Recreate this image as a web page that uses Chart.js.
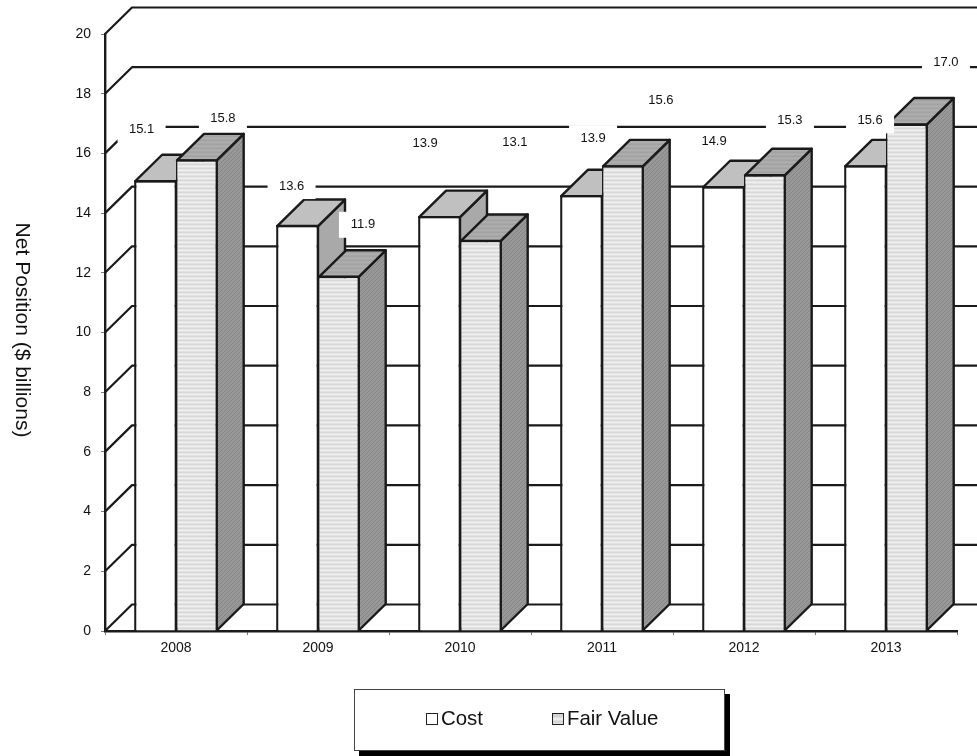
<!DOCTYPE html>
<html>
<head>
<meta charset="utf-8">
<title>Net Position</title>
<script src="https://cdn.jsdelivr.net/npm/chart.js@4"></script>
<style>
    body{ margin:0; background:#fff; font-family:"Liberation Sans",Arial,sans-serif; }
    #wrap{ position:relative; width:977px; height:756px; overflow:hidden; }
    #legend{
        position:absolute; left:354px; top:689px; width:371px; height:62px; box-sizing:border-box;
        background:#fff; border:1px solid #444; box-shadow:5px 5px 0 #000;
    }
    #legend .item{ position:absolute; top:17px; font-size:20.4px; line-height:23px; color:#111; white-space:nowrap; }
    #legend .swatch{ position:absolute; left:-1px; top:6px; width:12px; height:12px; box-sizing:border-box; border:1.5px solid #222; }
</style>
</head>
<body>
<div id="wrap">
    <canvas id="chart" width="977" height="756"></canvas>
    <div id="legend"></div>
</div>
<script>
'use strict';

const years = ['2008','2009','2010','2011','2012','2013'];
const costValues = [15.1,13.6,13.9,14.6,14.9,15.6];
const fairValues = [15.8,11.9,13.1,15.6,15.3,17.0];
// printed labels, the 2011 cost label does not agree with its bar in the original
const costLabels = ['15.1','13.6','13.9','13.9','14.9','15.6'];
const fairLabels = ['15.8','11.9','13.1','15.6','15.3','17.0'];
const yTicks = [0,2,4,6,8,10,12,14,16,18,20];
const axisTitle = 'Net Position ($ billions)';

// where each label sits, relative to the head of its bar
const costShift = [[-13.5,-51],[-5.5,-39],[-14,-73],[12,-57],[-9,-44.5],[5,-45]];
const fairShift = [[26,-41],[24,-51],[34,-98],[38,-65],[25,-54],[39,-61]];

const depthX = 27;
const depthY = 26.5;
const lineColor = '#1a1a1a';

function makePattern(size, paint){
    const cv = document.createElement('canvas');
    cv.width = size;
    cv.height = size;
    paint(cv.getContext('2d'), size);
    return document.getElementById('chart').getContext('2d').createPattern(cv,'repeat');
}

function stripes(colors){
    return makePattern(colors.length, function(p, size){
        colors.forEach(function(col, i){
            p.fillStyle = col;
            p.fillRect(0,i,size,1);
        });
    });
}

function hatch(back, front){
    return makePattern(4, function(p, size){
        p.fillStyle = back;
        p.fillRect(0,0,size,size);
        p.fillStyle = front;
        for(let i = 0; i < size; i++){
            p.fillRect((size-1-i),i,1,1);
        }
    });
}

const fairFront = stripes(['#d8d8d8','#e6e6e6','#f0f0f0','#e2e2e2']);
const fairTop = stripes(['#a2a2a2','#aaaaaa','#aeaeae','#a6a6a6']);
const fairSide = hatch('#989898','#868686');
const costTop = '#c0c0c0';
const costSide = '#a9a9a9';

function poly(c, pts, fill){
    c.beginPath();
    c.moveTo(pts[0][0],pts[0][1]);
    for(let i = 1; i < pts.length; i++){
        c.lineTo(pts[i][0],pts[i][1]);
    }
    c.closePath();
    c.fillStyle = fill;
    c.fill();
    c.stroke();
}

function drawBlock(c, bar, topFill, sideFill, inset){
    const left = bar.x - bar.width/2 + 1;
    const right = bar.x + bar.width/2 - inset;
    const y = bar.y + 1;
    const base = bar.base;
    poly(c,[[right,y],[right+depthX,y-depthY],[right+depthX,base-depthY],[right,base]],sideFill);
    poly(c,[[left,y],[left+depthX,y-depthY],[right+depthX,y-depthY],[right,y]],topFill);
}

const walls = {
    id: 'walls',
    beforeDatasetsDraw(chart){
        const c = chart.ctx;
        const area = chart.chartArea;
        const yScale = chart.scales.y;
        c.save();
        c.strokeStyle = lineColor;
        c.lineWidth = 2.2;
        c.lineJoin = 'round';
        yTicks.forEach(function(t){
            const py = yScale.getPixelForValue(t);
            c.beginPath();
            c.moveTo(area.left,py);
            c.lineTo(area.left+depthX,py-depthY);
            c.lineTo(chart.width,py-depthY);
            c.stroke();
        });
        const cost = chart.getDatasetMeta(0).data;
        const fair = chart.getDatasetMeta(1).data;
        c.lineWidth = 2.4;
        years.forEach(function(y, i){
            drawBlock(c,cost[i],costTop,costSide,0);
            drawBlock(c,fair[i],fairTop,fairSide,1.2);
        });
        c.restore();
    },
    afterDatasetsDraw(chart){
        const c = chart.ctx;
        c.save();
        c.font = '13px "Liberation Sans"';
        c.textAlign = 'center';
        c.textBaseline = 'middle';
        [[costLabels,costShift],[fairLabels,fairShift]].forEach(function(set, d){
            chart.getDatasetMeta(d).data.forEach(function(bar, i){
                const x = bar.x + set[1][i][0];
                const y = bar.y + set[1][i][1];
                c.fillStyle = '#fff';
                c.fillRect(x-24,y-13,48,26);
                c.fillStyle = '#111';
                c.fillText(set[0][i],x,y);
            });
        });
        c.restore();
    },
    afterDraw(chart){
        const c = chart.ctx;
        c.save();
        c.translate(22,330);
        c.rotate(Math.PI/2);
        c.font = '21px "Liberation Sans"';
        c.textAlign = 'center';
        c.textBaseline = 'middle';
        c.fillStyle = '#111';
        c.fillText(axisTitle,0,0);
        c.restore();
    }
};

const chart = new Chart(document.getElementById('chart'), {
    type: 'bar',
    data: {
        labels: years,
        datasets: [
            {label:'Cost', data:costValues, backgroundColor:'#fff', borderWidth:{top:2.4,left:2.4,bottom:0,right:1.5}},
            {label:'Fair Value', data:fairValues, backgroundColor:fairFront, borderWidth:{top:2.4,left:1.5,bottom:0,right:2.4}}
        ]
    },
    options: {
        responsive: false,
        animation: false,
        layout: {padding:{top:34,right:20}},
        categoryPercentage: 0.59,
        barPercentage: 1,
        elements: {bar:{borderColor:lineColor, borderSkipped:false}},
        plugins: {legend:{display:false}, tooltip:{enabled:false}},
        scales: {
            x: {
                grid: {drawOnChartArea:false, tickLength:4, color:'#777'},
                border: {color:lineColor, width:2.4},
                ticks: {color:'#111', font:{family:'"Liberation Sans"', size:14}, padding:5, maxRotation:0},
                afterFit(scale){ scale.height = 125; }
            },
            y: {
                min: 0,
                max: 20,
                afterBuildTicks(scale){ scale.ticks = yTicks.map(v => ({value:v})); },
                grid: {drawOnChartArea:false, tickLength:4, color:'#777'},
                border: {color:lineColor, width:2.4},
                ticks: {color:'#111', font:{family:'"Liberation Sans"', size:14}, padding:10},
                afterFit(scale){ scale.width = 105; }
            }
        }
    },
    plugins: [walls]
});

// legend boxes, the names come from the chart
const legendSpots = [[72,'#fff'],[198,'linear-gradient(#d2d2d2 25%,#f2f2f2 50%,#d2d2d2 75%,#e6e6e6)']];
chart.data.datasets.forEach(function(ds, i){
    const item = document.createElement('div');
    item.className = 'item';
    item.style.left = legendSpots[i][0] + 'px';
    item.style.paddingLeft = '14px';
    item.textContent = ds.label;
    const box = document.createElement('span');
    box.className = 'swatch';
    box.style.background = legendSpots[i][1];
    item.appendChild(box);
    document.getElementById('legend').appendChild(item);
});
</script>
</body>
</html>
